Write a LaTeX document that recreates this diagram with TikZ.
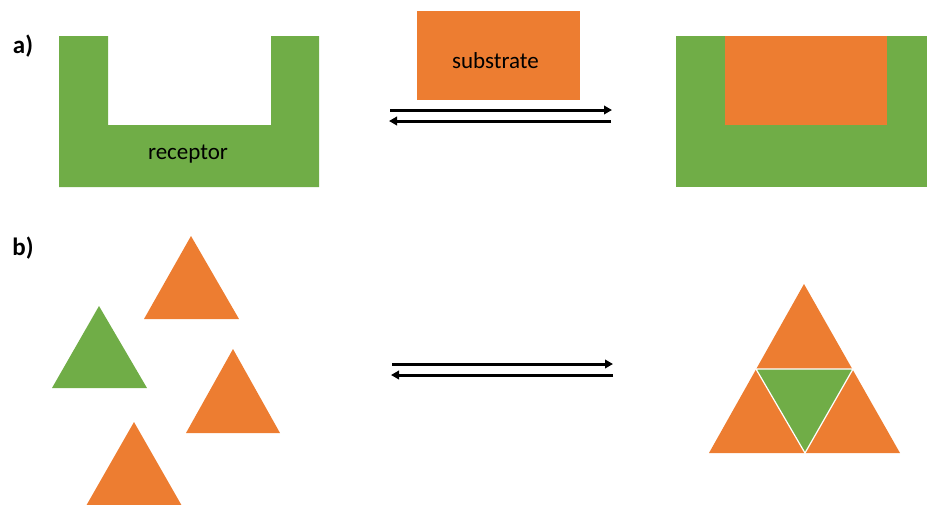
\documentclass[tikz,border=0pt]{standalone}
\usepackage{fontspec}
\setmainfont{Carlito}
\usetikzlibrary{arrows.meta}
\definecolor{grn}{HTML}{70AD47}
\definecolor{org}{HTML}{ED7D31}
\begin{document}
\begin{tikzpicture}[x=1pt,y=-1pt,
  eqarrow/.style={line width=3pt,-{Triangle[length=8pt,width=8.5pt]}},
  lbl/.style={font=\fontsize{25}{28}\selectfont\bfseries,inner sep=0pt},
  txt/.style={font=\fontsize{23}{26}\selectfont,inner sep=0pt},
  tri/.style={draw=white,line width=1.2pt,line join=miter}]
\useasboundingbox (0,0) rectangle (927,504);
\clip (0,0) rectangle (927,504);
% labels
\node[lbl] (la) at (23,46) {a)};
\node[lbl] (lb) at (23,248) {b)};
% receptor
\fill[grn] (59,36) -- (108,36) -- (108,125) -- (271,125) -- (271,36) -- (319,36) -- (319,187) -- (59,187) -- cycle;
\node[txt] (rec) at (188,154) {receptor};
% substrate
\fill[org] (417,11) rectangle (580,100);
\node[txt] (sub) at (495.5,61) {substrate};
% complex
\fill[grn] (676,36) rectangle (927,187);
\fill[org] (725,36) rectangle (887,125);
% arrows a
\coordinate (a1s) at (390,110); \coordinate (a1e) at (612,110);
\coordinate (a2s) at (611,121); \coordinate (a2e) at (389,121);
\draw[eqarrow] (a1s) -- (a1e);
\draw[eqarrow] (a2s) -- (a2e);
% arrows b
\coordinate (b1s) at (392,364); \coordinate (b1e) at (613,364);
\coordinate (b2s) at (613,375); \coordinate (b2e) at (391,375);
\draw[eqarrow] (b1s) -- (b1e);
\draw[eqarrow] (b2s) -- (b2e);
% free triangles
\fill[org] (191,236) -- (239,319) -- (144,319) -- cycle;
\fill[grn] (99,306) -- (147,388) -- (52,388) -- cycle;
\fill[org] (233,349) -- (280,433) -- (186,433) -- cycle;
\fill[org] (134,422) -- (182,506) -- (86,506) -- cycle;
% assembly
\fill[org] (804,284) -- (900,453) -- (709,453) -- cycle;
\draw[tri,fill=grn] (756,369) -- (853,369) -- (805,453) -- cycle;
\end{tikzpicture}
\end{document}
